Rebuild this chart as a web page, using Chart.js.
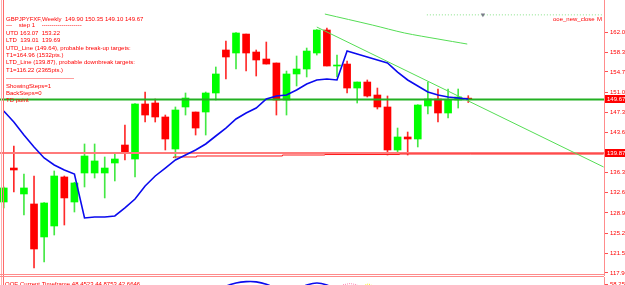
<!DOCTYPE html>
<html>
<head>
<meta charset="utf-8">
<script src="https://cdn.jsdelivr.net/npm/chart.js@4.4.1/dist/chart.umd.min.js"></script>
<style>
  html, body { margin: 0; padding: 0; background: #fff; overflow: hidden; }
  #wrap { position: relative; width: 625px; height: 285px; overflow: hidden; }
  #mainChart { position: absolute; left: 0; top: 0; }
  #subChart { position: absolute; left: 0; top: 277px; }
</style>
</head>
<body>
<div id="wrap">
  <canvas id="mainChart" width="625" height="277"></canvas>
  <canvas id="subChart" width="625" height="120"></canvas>
</div>
<script>
// GBPJPY weekly candles (index 0 = oldest visible bar)
const opens = [130.89, 137.11, 132.36, 130.53, 124.49, 126.50, 135.47, 130.89, 136.20, 136.20,
  136.20, 138.03, 141.32, 138.76, 148.83, 149.01, 146.45, 140.59, 148.28, 147.36,
  147.36, 150.84, 158.71, 158.16, 161.63, 158.34, 157.06, 156.33, 149.56, 154.32,
  155.23, 158.16, 162.37, 155.78, 156.14, 151.75, 152.85, 150.47, 148.28, 140.41,
  142.79, 142.42, 148.46, 149.74, 147.18, 149.56, 149.90];
const highs = [133.64, 141.14, 136.02, 135.65, 130.80, 136.57, 135.65, 134.50, 141.51, 141.51,
  139.13, 139.86, 144.98, 148.90, 151.02, 149.74, 146.81, 148.28, 150.84, 147.36,
  151.02, 155.60, 160.35, 161.90, 161.63, 158.71, 160.17, 156.33, 154.86, 157.61,
  159.07, 162.45, 162.73, 157.79, 156.69, 152.85, 153.22, 151.75, 150.29, 144.43,
  143.70, 148.70, 152.85, 151.57, 151.57, 151.57, 150.35];
const lows = [129.80, 132.72, 128.51, 118.82, 119.91, 124.85, 126.68, 129.06, 133.64, 135.28,
  131.63, 134.74, 138.58, 135.47, 145.53, 145.53, 140.41, 138.94, 146.81, 143.15,
  143.15, 149.56, 153.40, 155.23, 154.86, 153.95, 156.14, 146.81, 146.81, 152.12,
  153.77, 157.79, 155.78, 153.77, 150.84, 149.01, 150.11, 147.91, 139.49, 140.04,
  139.49, 140.96, 147.00, 145.53, 146.26, 148.09, 149.10];
const closes = [133.46, 136.75, 133.46, 122.29, 130.71, 135.65, 131.63, 134.37, 139.31, 138.40,
  137.11, 138.76, 139.86, 148.83, 146.81, 146.45, 142.42, 147.73, 149.92, 144.43,
  150.84, 154.32, 157.43, 161.82, 158.16, 156.88, 156.14, 149.56, 154.32, 155.23,
  158.52, 162.37, 155.78, 155.96, 151.75, 152.85, 150.29, 148.28, 140.41, 142.79,
  142.42, 148.64, 149.74, 147.18, 149.56, 150.11, 149.67];

// blue average line, one value per candle
const maLine = [147.54, 145.53, 143.15, 140.96, 138.94, 137.66, 136.75, 136.02, 127.97, 128.15,
  128.15, 128.33, 129.80, 131.44, 133.82, 135.65, 137.11, 138.58, 139.49, 140.41,
  141.51, 142.97, 144.43, 146.08, 147.18, 148.09, 149.74, 150.29, 150.47, 151.39,
  152.49, 153.22, 153.40, 153.22, 158.52, 157.97, 157.43, 156.88, 156.33, 154.68,
  153.22, 152.12, 151.02, 150.47, 150.11, 149.92, 149.74];

// TD lines and trend lines
const utdLevel = 149.64;
const ltdLevel = 139.87;
const ltdStepX = [16.8, 19.1, 27.6, 31.8, 39.2, 46.2, 59.4];
const ltdStepY = [138.94, 139.13, 139.31, 139.49, 139.58, 139.67, 139.67];
const trendX = [31, 59.4];
const trendY = [162.91, 137.30];
const channelX = [31.8, 36.5, 39.7, 43.0, 45.9];
const channelY = [165.29, 163.28, 161.82, 160.72, 159.80];
const closeMarkX = [41.9, 59.4];
const closeMarkY = [165.14, 165.14];
const arrowX = 47.45;

// axis
const yTickValues = [162.0, 158.3, 154.7, 151.0, 147.3, 143.6, 136.3, 132.6, 128.9, 125.2, 121.5, 117.9];
const lastPrice = 149.67;
const X_MIN = -0.37, X_MAX = 59.44;
const Y_MIN = 117.53, Y_MAX = 167.86;

// sub window oscillator (only the tops are visible)
const oscX = [20, 21, 22, 23, 24, 25, 26, 27, 28, 29, 30, 31, 32, 33, 34];
const oscY = [50, 54, 57.2, 58.9, 59.6, 59.5, 58.3, 56, 54, 55.5, 57.8, 58.9, 57.9, 55.5, 52];
const oscPinkX = [33.6, 34.3, 35.0];
const oscPinkY = [58.0, 58.6, 58.0];
const oscYellowX = [35.8, 36.1, 36.4];
const oscYellowY = [57.9, 58.4, 57.9];
const subTick = 58.255;

const infoLines = [
  'GBPJPYFXF,Weekly  149.90 150.35 149.10 149.67',
  '\u2014    step 1    --------------------',
  'UTD 163.07  153.22',
  'LTD  139.01  139.69',
  'UTD_Line (149.64), probable break-up targets:',
  'T1=164.96 (1532pts.)',
  'LTD_Line (139.87), probable downbreak targets:',
  'T1=116.22 (2365pts.)',
  '----------------------------------',
  'ShowingSteps=1',
  'BackSteps=0',
  'TD point'
];
const infoY = [19, 25.5, 33, 40, 48, 55, 62.5, 70, 78, 86, 93, 100];
const subTitle = 'OOE Current Timeframe 48.4523 44.8753 42.6646';

const FONT = '"Liberation Sans", Arial, sans-serif';
const GREEN = '#00ff00';
const RED = '#ff0000';

const pts = (xs, ys) => xs.map((x, i) => ({ x: x, y: ys[i] }));
const isUp = opens.map((o, i) => closes[i] >= o);

const bodies = opens.map((o, i) => ({ x: i, y: [o, closes[i]] }));
const wicks = lows.map((l, i) => ({ x: i, y: [l, highs[i]] }));

// right price scale, MT4 look; no extra label padding so the plot fills the window
function priceAxis(min, max, tickValues, digits) {
  return {
    position: 'right',
    min: min,
    max: max,
    afterBuildTicks: s => { s.ticks = tickValues.map(v => ({ value: v })); },
    afterFit: s => {
      s.width = 21;
      s.paddingTop = 0;
      s.paddingBottom = 0;
    },
    ticks: {
      autoSkip: false,
      padding: 2,
      color: RED,
      font: { family: FONT, size: 6 },
      callback: v => Number(v).toFixed(digits)
    },
    grid: { drawOnChartArea: false, drawTicks: true, tickLength: 4, tickColor: '#ff5050' },
    border: { color: '#ff8c8c', width: 1 }
  };
}

function leftBorder(ctx, h) {
  ctx.fillStyle = '#ffb0b0';
  ctx.fillRect(1, 0, 1, h);
  ctx.fillStyle = '#ff6a6a';
  ctx.fillRect(3, 0, 1, h);
}

const mt4Frame = {
  id: 'mt4Frame',
  afterDraw(chart) {
    const ctx = chart.ctx;
    const area = chart.chartArea;
    const y = chart.scales.y;
    ctx.save();
    leftBorder(ctx, chart.height);
    ctx.fillStyle = '#ff8c8c';
    ctx.fillRect(0, area.bottom - 1, area.right, 1);
    ctx.fillRect(0, area.bottom + 1, area.right, 1);

    ctx.font = '6px ' + FONT;
    ctx.textBaseline = 'middle';
    ctx.fillStyle = RED;
    infoLines.forEach((t, i) => ctx.fillText(t, 6, infoY[i]));
    ctx.fillText('ooe_new_close', 553, 19);
    ctx.fillText('M', 597, 19);

    // price labels on the axis
    [[lastPrice, '149.67'], [ltdLevel, '139.87']].forEach(([v, t]) => {
      const py = y.getPixelForValue(v);
      ctx.fillStyle = RED;
      ctx.fillRect(area.right + 1, Math.round(py) - 4, 21, 8);
      ctx.fillStyle = '#ffffff';
      ctx.fillText(t, area.right + 3, py);
    });
    ctx.restore();
  }
};

new Chart(document.getElementById('mainChart'), {
  type: 'bar',
  data: {
    datasets: [
      {
        label: 'wicks',
        data: wicks,
        backgroundColor: isUp.map(u => u ? '#44e844' : '#ff2a2a'),
        barThickness: 1,
        grouped: false,
        order: 10
      },
      {
        label: 'bodies',
        data: bodies,
        backgroundColor: isUp.map(u => u ? GREEN : RED),
        barThickness: 7,
        grouped: false,
        order: 9
      },
      {
        type: 'line',
        label: 'LTD line',
        data: pts([X_MIN, X_MAX], [ltdLevel, ltdLevel]),
        borderColor: '#ff7a7a',
        borderWidth: 2,
        pointRadius: 0,
        order: 6
      },
      {
        type: 'line',
        label: 'LTD steps',
        data: pts(ltdStepX, ltdStepY),
        borderColor: '#ff1a1a',
        borderWidth: 1,
        stepped: 'after',
        pointRadius: 0,
        order: 5
      },
      {
        type: 'line',
        label: 'UTD line',
        data: pts([X_MIN, X_MAX], [utdLevel, utdLevel]),
        borderColor: '#22b022',
        borderWidth: 2,
        pointRadius: 0,
        order: 5
      },
      {
        type: 'line',
        label: 'trend',
        data: pts(trendX, trendY),
        borderColor: '#55dd55',
        borderWidth: 1,
        pointRadius: 0,
        order: 4
      },
      {
        type: 'line',
        label: 'channel',
        data: pts(channelX, channelY),
        borderColor: '#55dd55',
        borderWidth: 1,
        tension: 0.3,
        pointRadius: 0,
        order: 4
      },
      {
        type: 'line',
        label: 'ooe_new_close',
        data: pts(closeMarkX, closeMarkY),
        borderColor: '#88e088',
        borderWidth: 1,
        borderDash: [1, 2],
        pointRadius: 0,
        order: 4
      },
      {
        type: 'line',
        label: 'arrow',
        data: [{ x: arrowX, y: closeMarkY[0] }],
        showLine: false,
        pointStyle: 'triangle',
        rotation: 180,
        pointRadius: 2.5,
        pointBackgroundColor: '#7a7a8a',
        pointBorderWidth: 0,
        order: 2
      },
      {
        type: 'line',
        label: 'average',
        data: maLine.map((v, i) => ({ x: i, y: v })),
        borderColor: '#0a0aee',
        borderWidth: 1.6,
        pointRadius: 0,
        order: 3
      }
    ]
  },
  options: {
    responsive: false,
    animation: false,
    layout: { padding: { left: 0, right: 0, top: 0, bottom: 2 }, autoPadding: false },
    plugins: { legend: { display: false }, tooltip: { enabled: false } },
    scales: {
      x: { type: 'linear', display: false, min: X_MIN, max: X_MAX, offset: false },
      y: priceAxis(Y_MIN, Y_MAX, yTickValues, 2)
    }
  },
  plugins: [mt4Frame]
});

const subFrame = {
  id: 'subFrame',
  afterDraw(chart) {
    const ctx = chart.ctx;
    ctx.save();
    leftBorder(ctx, chart.height);
    ctx.font = '6px ' + FONT;
    ctx.textBaseline = 'middle';
    ctx.fillStyle = RED;
    ctx.fillText(subTitle, 5, 7);
    ctx.restore();
  }
};

new Chart(document.getElementById('subChart'), {
  type: 'line',
  data: {
    datasets: [
      {
        data: pts(oscX, oscY),
        borderColor: '#0a0aee',
        borderWidth: 1.6,
        tension: 0.4,
        pointRadius: 0
      },
      {
        data: pts(oscPinkX, oscPinkY),
        borderColor: '#ff80b0',
        borderWidth: 1,
        borderDash: [1, 1],
        pointRadius: 0
      },
      {
        data: pts(oscYellowX, oscYellowY),
        borderColor: '#ffee00',
        borderWidth: 1,
        borderDash: [1, 1],
        pointRadius: 0
      }
    ]
  },
  options: {
    responsive: false,
    animation: false,
    layout: { padding: 0, autoPadding: false },
    plugins: { legend: { display: false }, tooltip: { enabled: false } },
    scales: {
      x: { type: 'linear', display: false, min: X_MIN, max: X_MAX },
      y: priceAxis(0, 62, [subTick], 3)
    }
  },
  plugins: [subFrame]
});
</script>
</body>
</html>
